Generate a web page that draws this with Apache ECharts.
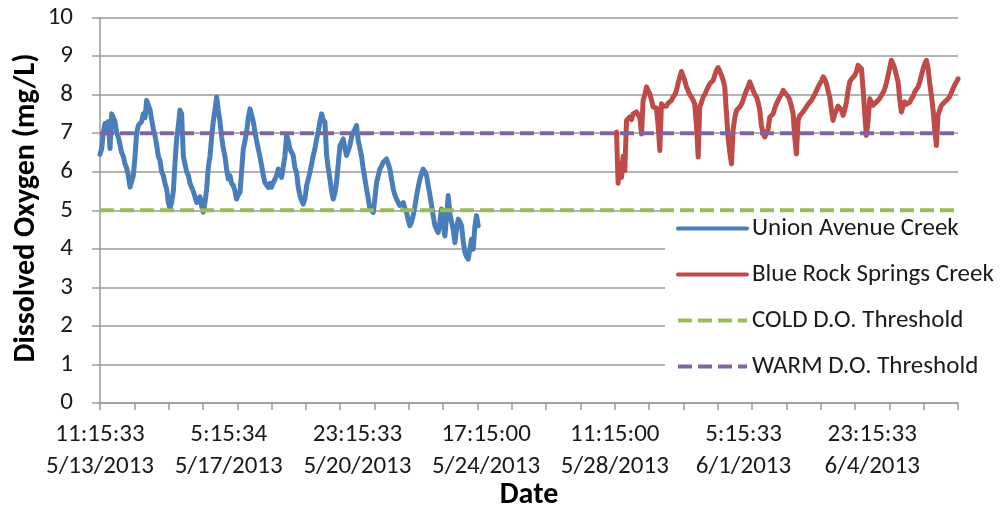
<!DOCTYPE html>
<html>
<head>
<meta charset="utf-8">
<script src="https://cdn.jsdelivr.net/npm/echarts@6/dist/echarts.min.js"></script>
<style>
  html, body { margin: 0; padding: 0; background: #fff; }
  #chart { width: 1002px; height: 510px; }
</style>
</head>
<body>
<div id="chart"></div>
<script>
// Time is in hours elapsed since 11:15:33 on 5/13/2013.
const xTickLabels = [
  '11:15:33\n5/13/2013', '5:15:34\n5/17/2013', '23:15:33\n5/20/2013',
  '17:15:00\n5/24/2013', '11:15:00\n5/28/2013', '5:15:33\n6/1/2013',
  '23:15:33\n6/4/2013'
];
const labelStepHours = 90;
const tickStepHours = 24;
const spanHours = 600;

const seriesNames = ['Union Avenue Creek', 'Blue Rock Springs Creek', 'COLD D.O. Threshold', 'WARM D.O. Threshold'];

// Dissolved oxygen, mg/L: [hours, value]
const unionAvenueCreek = [
  [0,6.45],[1.2,6.6],[2.3,7.0],[3.5,7.25],[4.7,7.1],[5.8,7.3],[7.0,6.6],[8.2,7.5],[9.3,7.4],[10.5,7.3],
  [11.7,7.0],[12.8,6.9],[14.0,6.7],[15.1,6.5],[16.3,6.4],[17.5,6.2],[18.6,6.1],[19.8,5.9],[21.0,5.6],[22.1,5.55],
  [23.3,5.9],[24.5,6.4],[25.6,7.0],[26.8,7.2],[28.0,7.25],[29.1,7.3],[30.3,7.5],[31.5,7.4],[32.6,7.85],[33.8,7.8],
  [35.0,7.6],[36.1,7.35],[37.3,7.1],[38.4,6.95],[39.6,6.7],[40.8,6.4],[41.9,6.3],[43.1,6.0],[44.3,5.9],[45.4,5.7],
  [46.6,5.55],[47.8,5.2],[48.9,5.05],[50.1,5.2],[51.3,5.5],[52.4,6.2],[53.6,6.85],[54.8,7.2],[55.9,7.6],[57.1,7.5],
  [58.3,6.4],[59.4,6.2],[60.6,6.0],[61.8,5.9],[62.9,5.7],[64.1,5.65],[65.2,5.5],[66.4,5.55],[67.6,5.2],[68.7,5.2],
  [69.9,5.35],[71.1,5.1],[72.2,4.95],[73.4,5.2],[74.6,5.55],[75.7,6.1],[76.9,6.4],[78.1,6.9],[79.2,7.3],[80.4,7.6],
  [81.6,7.94],[82.7,7.6],[83.9,7.3],[85.1,6.9],[86.2,6.6],[87.4,6.4],[88.5,6.07],[89.7,5.81],[90.9,5.9],[92.0,5.7],
  [93.2,5.64],[94.4,5.5],[95.5,5.29],[96.7,5.4],[97.9,5.46],[99.0,6.0],[100.2,6.59],[101.4,6.8],[102.5,7.03],[103.7,7.4],
  [104.9,7.63],[106.0,7.6],[107.2,7.3],[108.4,7.03],[109.5,6.8],[110.7,6.59],[111.8,6.4],[113.0,6.16],[114.2,5.9],[115.3,5.72],
  [116.5,5.65],[117.7,5.59],[118.8,5.7],[120.0,5.6],[121.2,5.72],[122.3,5.8],[123.5,5.9],[124.7,6.07],[125.8,6.0],[127.0,5.85],
  [128.2,5.9],[129.3,6.4],[130.5,6.94],[131.7,6.8],[132.8,6.59],[134.0,6.5],[135.1,6.42],[136.3,6.1],[137.5,5.98],[138.6,5.6],
  [139.8,5.38],[141.0,5.25],[142.1,5.16],[143.3,5.3],[144.5,5.64],[145.6,5.8],[146.8,5.98],[148.0,6.2],[149.1,6.42],[150.3,6.6],
  [151.5,6.85],[152.6,7.03],[153.8,7.3],[155.0,7.5],[156.1,7.35],[157.3,7.29],[158.5,6.42],[159.6,6.1],[160.8,5.81],[161.9,5.5],
  [163.1,5.29],[164.3,5.45],[165.4,5.72],[166.6,6.2],[167.8,6.68],[168.9,6.75],[170.1,6.85],[171.3,6.6],[172.4,6.42],[173.6,6.55],
  [174.8,6.68],[175.9,6.9],[177.1,7.03],[178.3,7.1],[179.4,7.2],[180.6,6.8],[181.8,6.6],[182.9,6.4],[184.1,6.07],[185.3,5.8],
  [186.4,5.55],[187.6,5.3],[188.7,5.03],[189.9,5.0],[191.1,4.94],[192.2,5.3],[193.4,5.72],[194.6,5.9],[195.7,6.07],[196.9,6.15],
  [198.1,6.25],[199.2,6.3],[200.4,6.33],[201.6,6.2],[202.7,6.07],[203.9,5.8],[205.1,5.55],[206.2,5.4],[207.4,5.29],[208.6,5.2],
  [209.7,5.12],[210.9,5.15],[212.1,5.2],[213.2,5.05],[214.4,4.94],[215.5,4.75],[216.7,4.6],[217.9,4.7],[219.0,4.86],[220.2,5.1],
  [221.4,5.38],[222.5,5.6],[223.7,5.81],[224.9,5.95],[226.0,6.07],[227.2,6.0],[228.4,5.9],[229.5,5.64],[230.7,5.4],[231.9,5.12],
  [233.0,4.85],[234.2,4.6],[235.4,4.5],[236.5,4.42],[237.7,4.7],[238.8,5.03],[240.0,4.6],[241.2,4.33],[242.3,4.8],[243.5,5.38],
  [244.7,4.9],[245.8,4.86],[247.0,4.5],[248.2,4.16],[249.3,4.5],[250.5,4.77],[251.7,4.7],[252.8,4.6],[254.0,4.2],[255.2,3.9],
  [256.3,3.8],[257.5,3.73],[258.7,4.0],[259.8,4.25],[261.0,3.99],[262.2,4.6],[263.3,4.86],[264.5,4.6]
];

const blueRockSpringsCreek = [
  [361.2,7.03],[362.3,5.7],[363.5,6.2],[364.7,5.85],[365.8,6.4],[367.0,6.03],[368.2,7.33],[369.3,7.3],[370.5,7.42],[371.7,7.35],
  [372.8,7.5],[374.0,7.45],[375.2,7.55],[376.3,7.59],[377.5,7.4],[378.7,6.98],[379.8,7.85],[381.0,8.0],[382.2,8.2],[383.3,8.1],
  [384.5,8.02],[385.7,7.85],[386.8,7.68],[388.0,7.7],[389.1,7.65],[390.3,7.2],[391.5,6.55],[392.6,7.76],[393.8,7.7],[395.0,7.72],
  [396.1,7.7],[397.3,7.78],[398.5,7.76],[399.6,7.85],[400.8,7.94],[402.0,8.0],[403.1,8.11],[404.3,8.3],[405.5,8.46],[406.6,8.6],
  [407.8,8.55],[408.9,8.37],[410.1,8.2],[411.3,8.1],[412.4,8.0],[413.6,7.94],[414.8,7.85],[415.9,7.76],[417.1,7.2],[418.3,6.38],
  [419.4,7.68],[420.6,7.8],[421.8,7.94],[422.9,8.0],[424.1,8.11],[425.3,8.2],[426.4,8.28],[427.6,8.3],[428.8,8.37],[429.9,8.5],
  [431.1,8.63],[432.3,8.7],[433.4,8.72],[434.6,8.5],[435.8,8.37],[436.9,8.2],[438.1,7.5],[439.2,6.9],[440.4,6.5],[441.6,6.2],
  [442.7,7.07],[443.9,7.4],[445.1,7.59],[446.2,7.55],[447.4,7.68],[448.6,7.75],[449.7,7.85],[450.9,8.0],[452.1,8.11],[453.2,8.2],
  [454.4,8.33],[455.6,8.3],[456.7,8.11],[457.9,8.0],[459.1,7.94],[460.2,7.8],[461.4,7.59],[462.5,7.2],[463.7,7.0],[464.9,6.9],
  [466.0,7.0],[467.2,7.1],[468.4,7.42],[469.5,7.45],[470.7,7.5],[471.9,7.65],[473.0,7.76],[474.2,7.85],[475.4,7.94],[476.5,8.0],
  [477.7,8.11],[478.9,8.05],[480.0,8.02],[481.2,7.95],[482.4,7.85],[483.5,7.7],[484.7,7.5],[485.8,6.9],[487.0,6.46],[488.2,7.33],
  [489.3,7.45],[490.5,7.5],[491.7,7.55],[492.8,7.6],[494.0,7.68],[495.2,7.75],[496.3,7.8],[497.5,7.85],[498.7,7.9],[499.8,8.0],
  [501.0,8.11],[502.2,8.2],[503.3,8.28],[504.5,8.35],[505.7,8.46],[506.8,8.4],[508.0,8.28],[509.1,8.1],[510.3,7.94],[511.5,7.6],
  [512.6,7.33],[513.8,7.5],[515.0,7.6],[516.1,7.7],[517.3,7.72],[518.5,7.6],[519.6,7.46],[520.8,7.6],[522.0,7.81],[523.1,8.1],
  [524.3,8.33],[525.5,8.4],[526.6,8.45],[527.8,8.5],[529.0,8.6],[530.1,8.76],[531.3,8.72],[532.5,8.67],[533.6,8.15],[534.8,7.5],
  [535.9,6.94],[537.1,7.3],[538.3,7.89],[539.4,7.8],[540.6,7.72],[541.8,7.75],[542.9,7.81],[544.1,7.85],[545.3,7.9],[546.4,7.98],
  [547.6,8.05],[548.8,8.15],[549.9,8.3],[551.1,8.5],[552.3,8.7],[553.4,8.89],[554.6,8.8],[555.8,8.67],[556.9,8.5],[558.1,8.33],
  [559.2,7.9],[560.4,7.55],[561.6,7.7],[562.7,7.81],[563.9,7.75],[565.1,7.72],[566.2,7.8],[567.4,7.89],[568.6,7.95],[569.7,8.07],
  [570.9,8.1],[572.1,8.2],[573.2,8.33],[574.4,8.5],[575.6,8.67],[576.7,8.8],[577.9,8.89],[579.1,8.67],[580.2,8.3],[581.4,7.98],
  [582.6,7.6],[583.7,7.1],[584.9,6.68],[586.0,7.46],[587.2,7.6],[588.4,7.72],[589.5,7.75],[590.7,7.81],[591.9,7.85],[593.0,7.89],
  [594.2,7.95],[595.4,8.0],[596.5,8.15],[597.7,8.25],[598.9,8.33],[600.0,8.41]
];

const coldThreshold = [[0, 5], [600, 5]];
const warmThreshold = [[0, 7], [600, 7]];

const FONT = 'Carlito, Lato, "Open Sans", sans-serif';
const GRID_GRAY = '#9a9a9a';
const TEXT = '#1a1a1a';

const chart = echarts.init(document.getElementById('chart'), null, { renderer: 'canvas' });

chart.setOption({
  animation: false,
  backgroundColor: '#ffffff',
  textStyle: { fontFamily: FONT },
  grid: { left: 100, right: 44, top: 17.5, bottom: 107, containLabel: false },
  xAxis: [
    {
      type: 'value', min: 0, max: spanHours, interval: tickStepHours, position: 'bottom',
      axisLine: { show: true, lineStyle: { color: GRID_GRAY, width: 1.5 } },
      axisTick: { show: true, inside: false, length: 7, lineStyle: { color: GRID_GRAY, width: 1.5 } },
      axisLabel: { show: false },
      splitLine: { show: false }
    },
    {
      type: 'value', min: 0, max: spanHours, interval: labelStepHours, position: 'bottom',
      axisLine: { show: false }, axisTick: { show: false }, splitLine: { show: false },
      axisLabel: {
        show: true, margin: 16, fontFamily: FONT, fontSize: 25, lineHeight: 32, color: TEXT,
        showMaxLabel: false,
        formatter: function (v) {
          const i = Math.round(v / labelStepHours);
          return (Math.abs(v - i * labelStepHours) < 1e-6 && i < xTickLabels.length) ? xTickLabels[i] : '';
        }
      }
    }
  ],
  yAxis: {
    type: 'value', min: 0, max: 10, interval: 1,
    axisLine: { show: true, lineStyle: { color: GRID_GRAY, width: 1.5 } },
    axisTick: { show: true, inside: false, length: 8, lineStyle: { color: GRID_GRAY, width: 1.5 } },
    axisLabel: { margin: 27, fontFamily: FONT, fontSize: 25, color: TEXT },
    splitLine: { show: true, lineStyle: { color: GRID_GRAY, width: 1.5 } }
  },
  legend: {
    orient: 'vertical', left: 665, top: 200,
    padding: [16, 4, 16, 11], backgroundColor: '#ffffff',
    itemWidth: 69, itemHeight: 18, itemGap: 21,
    lineStyle: { width: 4 },
    itemStyle: { opacity: 0, borderWidth: 0 },
    textStyle: { fontFamily: FONT, fontSize: 25, lineHeight: 25, color: TEXT },
    data: seriesNames
  },
  graphic: [
    {
      type: 'text', x: 26, y: 208, rotation: Math.PI / 2,
      style: { text: 'Dissolved Oxygen (mg/L)', fontFamily: FONT, fontSize: 30, fontWeight: 'bold',
               fill: '#000', align: 'center', verticalAlign: 'middle' }
    },
    {
      type: 'text', x: 529, y: 495,
      style: { text: 'Date', fontFamily: FONT, fontSize: 30, fontWeight: 'bold',
               fill: '#000', align: 'center', verticalAlign: 'middle' }
    }
  ],
  series: [
    {
      name: seriesNames[0], type: 'line', data: unionAvenueCreek, showSymbol: false, symbol: 'none',
      color: '#4a7ebb', lineStyle: { width: 5, color: '#4a7ebb', join: 'round', cap: 'round' }, z: 3
    },
    {
      name: seriesNames[1], type: 'line', data: blueRockSpringsCreek, showSymbol: false, symbol: 'none',
      color: '#be4b48', lineStyle: { width: 5, color: '#be4b48', join: 'round', cap: 'round' }, z: 3
    },
    {
      name: seriesNames[2], type: 'line', data: coldThreshold, showSymbol: false, symbol: 'none',
      color: '#9bbb59', lineStyle: { width: 4, color: '#9bbb59', type: [14, 6] }, z: 4
    },
    {
      name: seriesNames[3], type: 'line', data: warmThreshold, showSymbol: false, symbol: 'none',
      color: '#8064a2', lineStyle: { width: 4, color: '#8064a2', type: [14, 6] }, z: 4
    }
  ]
});
</script>
</body>
</html>
